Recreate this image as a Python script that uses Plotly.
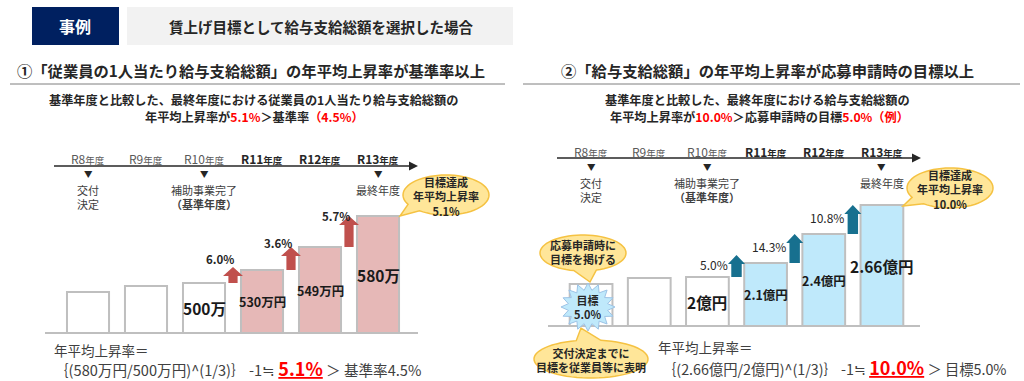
import math
import plotly.graph_objects as go

W, H = 1024, 381
FONT = "Noto Sans CJK JP"
TXT = "#262626"

# ---------------- data ----------------
years = ["R8", "R9", "R10", "R11", "R12", "R13"]
year_bold = [False, False, False, True, True, True]
left_bar_heights = [41, 47, 50, 63, 86, 117]        # drawn heights (illustrative)
left_bar_labels = ["", "", "500万", "530万円", "549万円", "580万"]
left_rates = ["6.0%", "3.6%", "5.7%"]
right_bar_heights = [42, 48, 49, 63, 92, 121]       # drawn heights (illustrative)
right_bar_labels = ["", "", "2億円", "2.1億円", "2.4億円", "2.66億円"]
right_rates = ["5.0%", "14.3%", "10.8%"]
milestones = {0: "交付<br>決定", 2: "補助事業完了<br><b>（基準年度）</b>", 5: "最終年度"}

WHITE = "#ffffff"
PINK = "#e6b8b7"
LBLUE = "#bfe9fb"
left_colors = [WHITE, WHITE, WHITE, PINK, PINK, PINK]
right_colors = [WHITE, WHITE, WHITE, LBLUE, LBLUE, LBLUE]


def px(x):
    return x / W


def py(y):
    return 1 - y / H


annotations = []
shapes = []


def T(text, x, y, size, color=TXT, xanchor="center", yanchor="middle", **kw):
    annotations.append(dict(text=text, x=px(x), y=py(y), xref="paper", yref="paper",
                            showarrow=False, xanchor=xanchor, yanchor=yanchor,
                            font=dict(family=FONT, size=size, color=color), **kw))


def rect(x0, y0, x1, y1, fill, line=None, lw=0):
    shapes.append(dict(type="rect", xref="paper", yref="paper", x0=px(x0), x1=px(x1),
                       y0=py(y1), y1=py(y0), fillcolor=fill,
                       line=dict(color=line or fill, width=lw), layer="below"))


def hline(x0, x1, y, color, width):
    shapes.append(dict(type="line", xref="paper", yref="paper", x0=px(x0), x1=px(x1),
                       y0=py(y), y1=py(y), line=dict(color=color, width=width)))


def poly(points, fill, line=None, lw=0, layer="above"):
    d = "M " + " L ".join(f"{px(a):.5f},{py(b):.5f}" for a, b in points) + " Z"
    shapes.append(dict(type="path", xref="paper", yref="paper", path=d, fillcolor=fill,
                       line=dict(color=line or fill, width=lw), layer=layer))


def callout(cx, cy, rx, ry, tip, a0, a1):
    # ellipse with a tail between angles a0..a1 (degrees, y-down)
    pts = []
    n = 60
    span = 360 - (a1 - a0)
    for k in range(n + 1):
        t = math.radians(a1 + span * k / n)
        pts.append((cx + rx * math.cos(t), cy + ry * math.sin(t)))
    pts.append(tip)
    poly(pts, "#ffe699", "#f5c242", 1.5)


def burst(cx, cy, ro_x, ro_y, ri_x, ri_y, n):
    pts = []
    for k in range(2 * n):
        t = math.pi * k / n
        rx, ry = (ro_x, ro_y) if k % 2 == 0 else (ri_x, ri_y)
        pts.append((cx + rx * math.cos(t), cy + ry * math.sin(t)))
    poly(pts, LBLUE, "#9dc3e6", 1)


def year_text(label, bold):
    s = f"{label}<span style='font-size:9.5px'>年度</span>"
    return f"<b>{s}</b>" if bold else s


# ---------------- header ----------------
rect(32, 7, 119, 45, "#002060")
T("<b>事例</b>", 75, 26, 16, "#ffffff")
rect(127, 7, 513, 45, "#f2f2f2")
T("<b>賃上げ目標として給与支給総額を選択した場合</b>", 321, 26, 14.5, TXT)

# ---------------- titles ----------------
T("<b>①「従業員の1人当たり給与支給総額」の年平均上昇率が基準率以上</b>", 251, 70, 15.3, TXT)
hline(10, 505, 84, "#7f7f7f", 1)
T("<b>基準年度と比較した、最終年度における従業員の1人当たり給与支給総額の</b>", 253, 100, 12.2, TXT)
T("<b>年平均上昇率が<span style='color:#ff0000'>5.1%</span>＞基準率"
  "<span style='color:#ff0000'>（4.5%）</span></b>", 254, 117, 12.2, TXT)

T("<b>②「給与支給総額」の年平均上昇率が応募申請時の目標以上</b>", 767, 70, 15.3, TXT)
hline(523, 1020, 84, "#7f7f7f", 1)
T("<b>基準年度と比較した、最終年度における給与支給総額の</b>", 757, 100, 12.2, TXT)
T("<b>年平均上昇率が<span style='color:#ff0000'>10.0%</span>＞応募申請時の目標"
  "<span style='color:#ff0000'>5.0%（例）</span></b>", 759, 117, 12.2, TXT)


# ---------------- timelines ----------------
def timeline(xref, x0, x1, y_line, y_year, y_tri, y_m1):
    hline(x0, x1 - 6, y_line, "#262626", 1.3)
    poly([(x1, y_line), (x1 - 9, y_line - 4.5), (x1 - 9, y_line + 4.5)], "#262626")
    for i, (yl, b) in enumerate(zip(years, year_bold)):
        annotations.append(dict(text=year_text(yl, b), x=i, y=py(y_year - 1), xref=xref, yref="paper",
                                showarrow=False, font=dict(family=FONT, size=12, color="#595959" if not b else TXT)))
    for i, text in milestones.items():
        annotations.append(dict(text="▼", x=i, y=py(y_tri), xref=xref, yref="paper", showarrow=False,
                                font=dict(family=FONT, size=8.5, color=TXT)))
        annotations.append(dict(text=text, x=i, y=py(y_m1 - 7), xref=xref, yref="paper",
                                yanchor="top", showarrow=False,
                                font=dict(family=FONT, size=11, color="#404040")))


timeline("x2", 54, 418, 166, 159, 173, 187)
timeline("x3", 557, 921, 158, 152, 166, 180)

# ---------------- baselines ----------------
hline(45, 418, 333, "#bfbfbf", 2)
hline(548, 920, 326, "#bfbfbf", 2)

# ---------------- bars ----------------
fig = go.Figure()
fig.add_trace(go.Bar(x=list(range(6)), y=left_bar_heights, width=0.725, xaxis="x2", yaxis="y2",
                     marker=dict(color=left_colors, line=dict(color="#bfbfbf", width=2)),
                     hoverinfo="skip", showlegend=False))
fig.add_trace(go.Bar(x=list(range(6)), y=right_bar_heights, width=0.735, xaxis="x3", yaxis="y3",
                     marker=dict(color=right_colors, line=dict(color="#bfbfbf", width=2)),
                     hoverinfo="skip", showlegend=False))


def bar_labels(xref, yref, heights, labels):
    for i, (h, lab) in enumerate(zip(heights, labels)):
        if not lab:
            continue
        big = i in (2, 5)
        annotations.append(dict(text=f"<b>{lab}</b>", x=i, y=h / 2, xref=xref, yref=yref, showarrow=False,
                                font=dict(family=FONT, size=15.5 if big else 12.5, color="#1a1a1a")))


bar_labels("x2", "y2", left_bar_heights, left_bar_labels)
bar_labels("x3", "y3", right_bar_heights, right_bar_labels)


def arrows(xref, yref, heights, rates, color, head, shaft, hl, min_len, xs, ys, bold, size):
    for k, rate in enumerate(rates):
        i = k + 2
        xc = i + 0.5
        y0 = heights[i]
        y1 = max(heights[i + 1], y0 + min_len)
        yh = y1 - hl
        pts = [(xc - shaft, y0), (xc + shaft, y0), (xc + shaft, yh), (xc + head, yh),
               (xc, y1), (xc - head, yh), (xc - shaft, yh)]
        d = "M " + " L ".join(f"{a:.4f},{b:.2f}" for a, b in pts) + " Z"
        shapes.append(dict(type="path", xref=xref, yref=yref, path=d, fillcolor=color,
                           line=dict(color=color, width=0), layer="above"))
        txt = f"<b>{rate}</b>" if bold else rate
        annotations.append(dict(text=txt, x=xc, y=(y0 + y1) / 2, xref=xref, yref=yref,
                                showarrow=False, xanchor="right", xshift=xs, yshift=ys,
                                font=dict(family=FONT, size=size, color="#262626")))


arrows("x2", "y2", left_bar_heights, left_rates, "#c0504d", 10 / 58, 4.6 / 58, 9, 16, 3, 16, True, 11.5)
arrows("x3", "y3", right_bar_heights, right_rates, "#17708f", 8.5 / 58, 5.2 / 58, 9, 22, -7, 2, False, 12)

# ---------------- callouts ----------------
callout(446, 195, 43, 20, (400, 216), 128, 152)
T("<b>目標達成<br>年平均上昇率<br>5.1%</b>", 446, 196, 11, TXT)

callout(950, 188, 43, 20, (903, 206), 128, 152)
T("<b>目標達成<br>年平均上昇率<br>10.0%</b>", 950, 189, 11, TXT)

callout(583, 253, 43, 18, (590, 282), 72, 102)
T("<b>応募申請時に<br>目標を掲げる</b>", 583, 252, 11, TXT)

callout(591, 359, 57, 19, (581, 328), 255, 280)
T("<b>交付決定までに<br>目標を従業員等に表明</b>", 591, 360, 11, TXT)

burst(588, 307, 27, 24, 20, 17, 16)
T("<b>目標<br>5.0%</b>", 588, 307, 11, TXT)

# ---------------- formulas ----------------
T("年平均上昇率＝", 52, 350, 13.5, "#404040", xanchor="left")
T("｛(580万円/500万円)^(1/3)｝ -1≒ <span style='color:#ff0000;font-size:18px'><b><u>5.1%</u></b></span>"
  " ＞ 基準率4.5%", 52, 368, 14.6, "#404040", xanchor="left")
T("年平均上昇率＝", 656, 347, 13.5, "#404040", xanchor="left")
T("｛(2.66億円/2億円)^(1/3)｝ -1≒ <span style='color:#ff0000;font-size:18px'><b><u>10.0%</u></b></span>"
  " ＞ 目標5.0%", 660, 367, 14.3, "#404040", xanchor="left")

fig.update_layout(
    width=W, height=H, margin=dict(l=0, r=0, t=0, b=0),
    paper_bgcolor="#ffffff", plot_bgcolor="rgba(0,0,0,0)",
    showlegend=False,
    xaxis2=dict(domain=[px(59), px(407)], range=[-0.5, 5.5], visible=False, anchor="y2"),
    yaxis2=dict(domain=[py(333), py(133)], range=[0, 200], visible=False, anchor="x2"),
    xaxis3=dict(domain=[px(562), px(911)], range=[-0.5, 5.5], visible=False, anchor="y3"),
    yaxis3=dict(domain=[py(326), py(126)], range=[0, 200], visible=False, anchor="x3"),
    xaxis=dict(visible=False), yaxis=dict(visible=False),
    annotations=annotations, shapes=shapes,
    font=dict(family=FONT),
)
fig.write_html("out.html", config={"displayModeBar": False})
